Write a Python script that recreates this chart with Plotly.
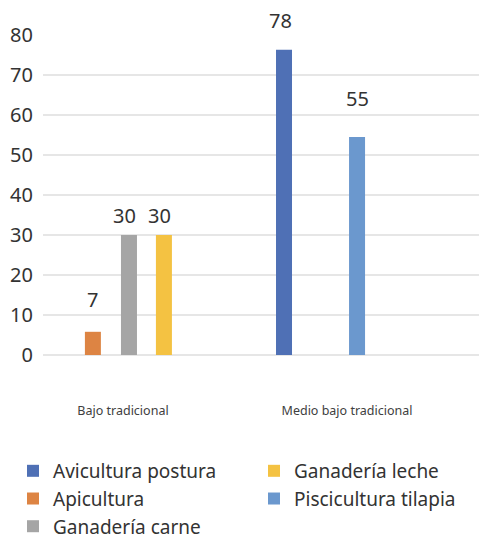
import plotly.graph_objects as go

# ---- data ----
categories = ["Bajo tradicional", "Medio bajo tradicional"]
series_names = ["Avicultura postura", "Apicultura", "Ganadería carne",
                "Ganadería leche", "Piscicultura tilapia"]
avicultura_postura = [None, 76.3]
apicultura = [5.8, None]
ganaderia_carne = [30.0, None]
ganaderia_leche = [30.0, None]
piscicultura_tilapia = [None, 54.5]
# data labels as printed on the chart
avicultura_labels = ["", "78"]
apicultura_labels = ["7", ""]
carne_labels = ["30", ""]
leche_labels = ["30", ""]
tilapia_labels = ["", "55"]
y_ticks = [0, 10, 20, 30, 40, 50, 60, 70, 80]

# ---- style ----
colors = ["#4F70B5", "#DD8443", "#A5A5A5", "#F4C242", "#6B98CE"]
offsets = [-0.317, -0.170, -0.009, 0.147, 0.009]
bar_w = 0.0714
label_shift = [14, 17, 4, 4, 23]
label_xshift = [-4, 0, -4, -4, 0]
legend_rank = [1, 3, 5, 2, 4]
FONT = "Noto Sans"

values = [avicultura_postura, apicultura, ganaderia_carne, ganaderia_leche, piscicultura_tilapia]
labels = [avicultura_labels, apicultura_labels, carne_labels, leche_labels, tilapia_labels]

fig = go.Figure()
annotations = []
for i, (name, vals, labs) in enumerate(zip(series_names, values, labels)):
    fig.add_trace(go.Bar(
        name=name, x=categories, y=vals,
        marker=dict(color=colors[i], line=dict(width=0)),
        offset=offsets[i], width=bar_w, legendrank=legend_rank[i],
    ))
    for j, (v, t) in enumerate(zip(vals, labs)):
        if v is None or not t:
            continue
        annotations.append(dict(
            x=j + offsets[i] + bar_w / 2, y=v, xref="x", yref="y",
            text=t, showarrow=False, yanchor="bottom",
            yshift=label_shift[i], xshift=label_xshift[i],
            font=dict(family=FONT, size=20, color="#333333"),
        ))

fig.update_layout(
    width=479, height=540,
    margin=dict(l=43, r=0, t=35, b=185, autoexpand=False),
    paper_bgcolor="white", plot_bgcolor="white",
    font=dict(family=FONT, color="#404040"),
    barmode="overlay",
    showlegend=True,
    legend=dict(
        orientation="h", x=-0.0688, y=-0.303, xanchor="left", yanchor="top",
        entrywidth=196, entrywidthmode="pixels",
        font=dict(family=FONT, size=19, color="#333333"),
        traceorder="normal",
    ),
    annotations=annotations,
    xaxis=dict(
        type="category", range=[-0.357, 1.589], showgrid=False, zeroline=False,
        showline=False, ticks="", ticklabelstandoff=46,
        tickfont=dict(family=FONT, size=12.5, color="#404040"),
    ),
    yaxis=dict(
        range=[0, 80], tickvals=y_ticks, showgrid=True, gridcolor="#E6E6E6",
        gridwidth=1.5, zeroline=True, zerolinecolor="#E6E6E6", zerolinewidth=1.5,
        showline=False, ticks="", ticklabelstandoff=9,
        tickfont=dict(family=FONT, size=20, color="#333333"),
    ),
)

fig.write_html("out.html", config={"displayModeBar": False},
               post_script="document.body.style.margin='0px';")
